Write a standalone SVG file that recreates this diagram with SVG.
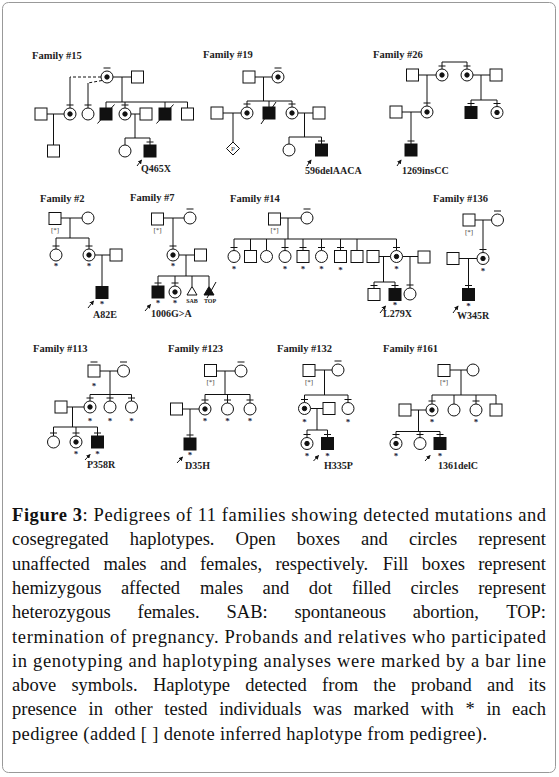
<svg xmlns="http://www.w3.org/2000/svg" xmlns:xlink="http://www.w3.org/1999/xlink" width="559" height="777" viewBox="0 0 559 777">
<style>
.s{fill:#fff;stroke:#111;stroke-width:1}
.k{fill:#111;stroke:#111;stroke-width:1}
.ln{stroke:#111;stroke-width:1;fill:none}
.dash{stroke:#111;stroke-width:1;fill:none;stroke-dasharray:3 2}
.arr{stroke:#111;stroke-width:1;fill:none;marker-end:url(#ah)}
.fam{font-family:"Liberation Serif",serif;font-weight:bold;font-size:10.5px;fill:#222}
.mut{font-family:"Liberation Serif",serif;font-weight:bold;font-size:10px;fill:#222}
.ast{font-family:"Liberation Serif",serif;font-weight:bold;font-size:9px;fill:#22223a;text-anchor:middle}
.inf{font-family:"Liberation Serif",serif;font-size:7px;fill:#333;text-anchor:middle}
.sm{font-family:"Liberation Serif",serif;font-weight:bold;font-size:6px;fill:#222;text-anchor:middle}
.cap{font-family:"Liberation Serif",serif;font-size:18.5px;fill:#111}
</style>
<defs>
<marker id="ah" viewBox="0 0 6 6" refX="5" refY="3" markerWidth="4.5" markerHeight="4.5" markerUnits="userSpaceOnUse" orient="auto"><path d="M0,0 L6,3 L0,6 z" fill="#111"/></marker>
<rect id="M" x="-6" y="-6" width="12" height="12" class="s"/>
<rect id="A" x="-6" y="-6" width="12" height="12" class="k"/>
<circle id="F" r="6" class="s"/>
<g id="H"><circle r="6" class="s"/><circle r="2.2" class="k"/></g>
<line id="B" x1="-3.5" y1="-9" x2="3.5" y2="-9" class="ln"/>
<line id="SL" x1="-8.5" y1="9.5" x2="8.5" y2="-9.5" class="ln"/>
</defs>

<rect x="2.5" y="2.5" width="553" height="770" rx="6" fill="#fff" stroke="#999" stroke-width="1"/>

<g id="labels">
<text class="fam" x="32" y="59">Family #15</text>
<text class="fam" x="203" y="58">Family #19</text>
<text class="fam" x="373" y="58">Family #26</text>
<text class="fam" x="40" y="201.5">Family #2</text>
<text class="fam" x="130" y="201">Family #7</text>
<text class="fam" x="230" y="201.5">Family #14</text>
<text class="fam" x="433" y="202">Family #136</text>
<text class="fam" x="33" y="352">Family #113</text>
<text class="fam" x="168" y="352">Family #123</text>
<text class="fam" x="277" y="352">Family #132</text>
<text class="fam" x="383" y="352">Family #161</text>
<text class="mut" x="141" y="172">Q465X</text>
<text class="mut" x="305" y="173.5">596delAACA</text>
<text class="mut" x="402" y="173.5">1269insCC</text>
<text class="mut" x="93" y="318">A82E</text>
<text class="mut" x="151" y="317">1006G&gt;A</text>
<text class="mut" x="383" y="317">L279X</text>
<text class="mut" x="457" y="319">W345R</text>
<text class="mut" x="87" y="468">P358R</text>
<text class="mut" x="185" y="469">D35H</text>
<text class="mut" x="324" y="468.5">H335P</text>
<text class="mut" x="438" y="469">1361delC</text>
<text class="sm" x="192" y="303">SAB</text>
<text class="sm" x="210" y="303">TOP</text>
</g>

<g id="connectors">
<!-- Family 15 -->
<path class="dash" d="M101,77 H70 M102,80.5 L88,83"/>
<path class="ln" d="M70,77 V108 M88,83 V108 M113,77 H131.5 M122,77 V102 M106,102 H187.5 M106,102 V108 M125,102 V108 M165,102 V108 M187.5,102 V108 M47,114 H64 M53.5,114 V145 M131,114 H140 M135,114 V138 M125,138 H150 M125,138 V145 M150,138 V145"/>
<path class="arr" d="M137,166 L141.5,160"/>
<!-- Family 19 -->
<path class="ln" d="M255,77 H272 M263.5,77 V101 M247,101 H292 M247,101 V107 M269,101 V107 M292,101 V107 M223,113 H241 M233,113 V142 M298,113 H313 M304.5,113 V137 M289,137 H321.5 M289,137 V144 M321.5,137 V144"/>
<path class="arr" d="M307,166 L311,160"/>
<!-- Family 26 -->
<path class="ln" d="M442,69 V62 H467 V69 M418.5,75 H436 M427,75 V106 M473,75 H490 M481,75 V100 M471,100 H497 M471,100 V106.5 M497,100 V106.5 M402,112 H421 M411,112 V144"/>
<path class="arr" d="M397,166 L401,160"/>
<!-- Family 2 -->
<path class="ln" d="M61,218 H82 M70,218 V238 M56,238 H89 M56,238 V249 M89,238 V249 M95,255 H110 M102,255 V286.5"/>
<path class="arr" d="M88,308 L93.5,301"/>
<!-- Family 7 -->
<path class="ln" d="M163.5,218 H184 M173,218 V249 M179,255 H194.5 M186,255 V276 M158,276 H209 M158,276 V286 M175,276 V286 M192,276 V286.5 M209,276 V286.5"/>
<path class="arr" d="M145,311 L150.5,304.5"/>
<!-- Family 14 -->
<path class="ln" d="M280.5,218 H301 M288,218 V239 M234,239 H396.5 M234,239 V250.5 M250.5,239 V250.5 M266.5,239 V250.5 M285,239 V250.5 M303,239 V250.5 M321.5,239 V250.5 M340.5,239 V250.5 M357,239 V250.5 M396.5,239 V250.5 M379,256.5 H390.5 M383.5,256.5 V282 M374,282 H395 M374,282 V288.5 M395,282 V288.5 M402.5,256.5 H418 M410,256.5 V288"/>
<path class="arr" d="M380,313 L385.5,306"/>
<!-- Family 136 -->
<path class="ln" d="M475,220 H491.5 M483,220 V252.5 M459,258.5 H477 M468.5,258.5 V288.5"/>
<path class="arr" d="M453,313 L458,306"/>
<!-- Family 113 -->
<path class="ln" d="M100,371 H117.5 M110,371 V394.5 M90,394.5 H131.5 M90,394.5 V401 M110,394.5 V401 M131.5,394.5 V401 M67,407 H84 M72.5,407 V427 M53.5,427 H97.5 M53.5,427 V436 M76,427 V436 M97.5,427 V436"/>
<path class="arr" d="M85,460 L90,454.5"/>
<!-- Family 123 -->
<path class="ln" d="M216.5,371 H235 M225,371 V394.5 M205,394.5 H250 M205,394.5 V403 M227.5,394.5 V403 M250,394.5 V403 M182.5,409 H199 M190,409 V438"/>
<path class="arr" d="M177,463 L182.5,457"/>
<!-- Family 132 -->
<path class="ln" d="M315,370 H332 M324.5,370 V395 M304.5,395 H348 M304.5,395 V402.5 M348,395 V402.5 M310.5,408.5 H323 M317,408.5 V430 M307,430 H327.5 M307,430 V437.5 M327.5,430 V437.5"/>
<path class="arr" d="M313.5,461 L318.5,455.5"/>
<!-- Family 161 -->
<path class="ln" d="M450,370 H467 M461,370 V395 M432,395 H496 M432,395 V404 M454,395 V404 M476,395 V404 M496,395 V404 M411,410 H426 M418.5,410 V431.5 M396,431.5 H440 M396,431.5 V437.5 M420,431.5 V437.5 M440,431.5 V437.5"/>
<path class="arr" d="M425,461 L430,455.5"/>
</g>

<!-- Family 15 nodes -->
<g id="f15-1" transform="translate(107,77)"><use href="#H"/><use href="#B"/></g>
<g id="f15-2" transform="translate(137.5,77)"><use href="#M"/></g>
<g id="f15-3" transform="translate(41,114)"><use href="#M"/></g>
<g id="f15-4" transform="translate(70,114)"><use href="#H"/><use href="#B"/></g>
<g id="f15-5" transform="translate(88,114)"><use href="#F"/><use href="#B"/></g>
<g id="f15-6" transform="translate(106,114)"><use href="#A"/><use href="#SL"/></g>
<g id="f15-7" transform="translate(125,114)"><use href="#H"/><use href="#B"/></g>
<g id="f15-8" transform="translate(146,114)"><use href="#M"/></g>
<g id="f15-9" transform="translate(165,114)"><use href="#A"/><use href="#SL"/></g>
<g id="f15-10" transform="translate(187.5,114)"><use href="#M"/></g>
<g id="f15-11" transform="translate(53.5,151)"><use href="#M"/></g>
<g id="f15-12" transform="translate(125,151)"><use href="#F"/></g>
<g id="f15-13" transform="translate(150,151)"><use href="#A"/><use href="#B"/></g>

<!-- Family 19 nodes -->
<g id="f19-1" transform="translate(249,77)"><use href="#M"/></g>
<g id="f19-2" transform="translate(278,77)"><use href="#H"/><use href="#B"/></g>
<g id="f19-3" transform="translate(217,113)"><use href="#M"/></g>
<g id="f19-4" transform="translate(247,113)"><use href="#H"/><use href="#B"/></g>
<g id="f19-5" transform="translate(269,113)"><use href="#A"/><line x1="-8" y1="11" x2="7" y2="-11" class="ln"/></g>
<g id="f19-6" transform="translate(292,113)"><use href="#H"/><use href="#B"/></g>
<g id="f19-7" transform="translate(319,113)"><use href="#M"/></g>
<g id="f19-8" transform="translate(233,148.5)"><polygon points="0,-6.5 6.5,0 0,6.5 -6.5,0" class="s"/><text x="0" y="2.5" class="inf">P</text></g>
<g id="f19-9" transform="translate(289,150)"><use href="#F"/></g>
<g id="f19-10" transform="translate(321.5,150)"><use href="#A"/><use href="#B"/></g>

<!-- Family 26 nodes -->
<g id="f26-1" transform="translate(412.5,75)"><use href="#M"/></g>
<g id="f26-2" transform="translate(442,75)"><use href="#H"/><use href="#B"/></g>
<g id="f26-3" transform="translate(467,75)"><use href="#H"/><use href="#B"/></g>
<g id="f26-4" transform="translate(496,75)"><use href="#M"/></g>
<g id="f26-5" transform="translate(396,112)"><use href="#M"/></g>
<g id="f26-6" transform="translate(427,112)"><use href="#H"/><use href="#B"/></g>
<g id="f26-7" transform="translate(471,112.5)"><use href="#A"/><use href="#B"/></g>
<g id="f26-8" transform="translate(497,112.5)"><use href="#H"/><use href="#B"/></g>
<g id="f26-9" transform="translate(411,150)"><use href="#A"/><use href="#B"/></g>

<!-- Family 2 nodes -->
<g id="f2-1" transform="translate(55,218.5)"><use href="#M"/><text class="inf" y="13">[*]</text></g>
<g id="f2-2" transform="translate(88,218)"><use href="#F"/></g>
<g id="f2-3" transform="translate(56,255)"><use href="#F"/><use href="#B"/><text class="ast" y="14">*</text></g>
<g id="f2-4" transform="translate(89,255)"><use href="#H"/><use href="#B"/><text class="ast" y="14">*</text></g>
<g id="f2-5" transform="translate(116,255)"><use href="#M"/></g>
<g id="f2-6" transform="translate(102,292.5)"><use href="#A"/><text class="ast" y="14">*</text></g>

<!-- Family 7 nodes -->
<g id="f7-1" transform="translate(157.5,219)"><use href="#M"/><text class="inf" y="13">[*]</text></g>
<g id="f7-2" transform="translate(190,218)"><use href="#F"/><use href="#B"/></g>
<g id="f7-3" transform="translate(173,255)"><use href="#H"/><use href="#B"/><text class="ast" y="14">*</text></g>
<g id="f7-4" transform="translate(200.5,255)"><use href="#M"/></g>
<g id="f7-5" transform="translate(158,292)"><use href="#A"/><use href="#B"/><text class="ast" y="14">*</text></g>
<g id="f7-6" transform="translate(175,292)"><use href="#H"/><use href="#B"/><text class="ast" y="14">*</text></g>
<g id="f7-7" transform="translate(192,291)"><polygon points="0,-4.5 5,4 -5,4" class="s"/></g>
<g id="f7-8" transform="translate(209,291)"><polygon points="0,-4.5 5,4 -5,4" class="k"/><line x1="-2" y1="7" x2="7" y2="-9" class="ln"/></g>

<!-- Family 14 nodes -->
<g id="f14-1" transform="translate(274.5,219)"><use href="#M"/><text class="inf" y="13">[*]</text></g>
<g id="f14-2" transform="translate(307,218)"><use href="#F"/><use href="#B"/></g>
<g id="f14-3" transform="translate(234,256.5)"><use href="#F"/><use href="#B"/><text class="ast" y="15">*</text></g>
<g id="f14-4" transform="translate(250.5,256.5)"><use href="#M"/></g>
<g id="f14-5" transform="translate(266.5,256.5)"><use href="#F"/></g>
<g id="f14-6" transform="translate(285,256.5)"><use href="#F"/><use href="#B"/><text class="ast" y="15">*</text></g>
<g id="f14-7" transform="translate(303,256.5)"><use href="#M"/><use href="#B"/><text class="ast" y="15">*</text></g>
<g id="f14-8" transform="translate(321.5,256.5)"><use href="#F"/><use href="#B"/><text class="ast" y="15">*</text></g>
<g id="f14-9" transform="translate(340.5,256.5)"><use href="#M"/><use href="#B"/><text class="ast" y="16.5">*</text></g>
<g id="f14-10" transform="translate(357,256.5)"><use href="#M"/></g>
<g id="f14-11" transform="translate(373,256.5)"><use href="#M"/></g>
<g id="f14-12" transform="translate(396.5,256.5)"><use href="#H"/><use href="#B"/><text class="ast" y="15">*</text></g>
<g id="f14-13" transform="translate(424,257)"><use href="#M"/></g>
<g id="f14-14" transform="translate(374,294.5)"><use href="#M"/><use href="#B"/></g>
<g id="f14-15" transform="translate(395,294.5)"><use href="#A"/><use href="#B"/><text class="ast" y="13">*</text></g>
<g id="f14-16" transform="translate(410,294)"><use href="#F"/><use href="#B"/></g>

<!-- Family 136 nodes -->
<g id="f136-1" transform="translate(469,220)"><use href="#M"/><text class="inf" y="13.5">[*]</text></g>
<g id="f136-2" transform="translate(497.5,220)"><use href="#F"/><use href="#B"/></g>
<g id="f136-3" transform="translate(453,258.5)"><use href="#M"/></g>
<g id="f136-4" transform="translate(483,258.5)"><use href="#H"/><use href="#B"/><text class="ast" y="15">*</text></g>
<g id="f136-5" transform="translate(468.5,294.5)"><use href="#A"/><use href="#B"/><text class="ast" y="14">*</text></g>

<!-- Family 113 nodes -->
<g id="f113-1" transform="translate(94,371)"><use href="#M"/><use href="#B"/><text class="ast" y="17.5">*</text></g>
<g id="f113-2" transform="translate(123.5,371)"><use href="#F"/><use href="#B"/></g>
<g id="f113-3" transform="translate(61,407)"><use href="#M"/></g>
<g id="f113-4" transform="translate(90,407)"><use href="#H"/><use href="#B"/><text class="ast" y="16.5">*</text></g>
<g id="f113-5" transform="translate(110,407)"><use href="#F"/><use href="#B"/><text class="ast" y="16.5">*</text></g>
<g id="f113-6" transform="translate(131.5,407)"><use href="#F"/><use href="#B"/><text class="ast" y="16.5">*</text></g>
<g id="f113-7" transform="translate(53.5,442)"><use href="#F"/><use href="#B"/></g>
<g id="f113-8" transform="translate(76,442)"><use href="#H"/><use href="#B"/><text class="ast" y="15">*</text></g>
<g id="f113-9" transform="translate(97.5,442)"><use href="#A"/><use href="#B"/><text class="ast" y="15">*</text></g>

<!-- Family 123 nodes -->
<g id="f123-1" transform="translate(210.5,370.5)"><use href="#M"/><text class="inf" y="13.5">[*]</text></g>
<g id="f123-2" transform="translate(241,371)"><use href="#F"/><use href="#B"/></g>
<g id="f123-3" transform="translate(176.5,409)"><use href="#M"/></g>
<g id="f123-4" transform="translate(205,409)"><use href="#H"/><use href="#B"/><text class="ast" y="15">*</text></g>
<g id="f123-5" transform="translate(227.5,409)"><use href="#F"/><use href="#B"/><text class="ast" y="15">*</text></g>
<g id="f123-6" transform="translate(250,409)"><use href="#F"/><use href="#B"/><text class="ast" y="15">*</text></g>
<g id="f123-7" transform="translate(190,444)"><use href="#A"/><use href="#B"/><text class="ast" y="14">*</text></g>

<!-- Family 132 nodes -->
<g id="f132-1" transform="translate(309,370.5)"><use href="#M"/><text class="inf" y="13.5">[*]</text></g>
<g id="f132-2" transform="translate(338,370)"><use href="#F"/><use href="#B"/></g>
<g id="f132-3" transform="translate(304.5,408.5)"><use href="#H"/><use href="#B"/><text class="ast" y="16">*</text></g>
<g id="f132-4" transform="translate(348,408.5)"><use href="#F"/><use href="#B"/><text class="ast" y="16">*</text></g>
<g id="f132-5" transform="translate(329,408.5)"><use href="#M"/></g>
<g id="f132-6" transform="translate(307,443.5)"><use href="#H"/><use href="#B"/><text class="ast" y="15">*</text></g>
<g id="f132-7" transform="translate(327.5,443.5)"><use href="#A"/><use href="#B"/><text class="ast" y="15">*</text></g>

<!-- Family 161 nodes -->
<g id="f161-1" transform="translate(444,370.5)"><use href="#M"/><text class="inf" y="13.5">[*]</text></g>
<g id="f161-2" transform="translate(473,370)"><use href="#F"/></g>
<g id="f161-3" transform="translate(405,410)"><use href="#M"/></g>
<g id="f161-4" transform="translate(432,410)"><use href="#H"/><use href="#B"/><text class="ast" y="15">*</text></g>
<g id="f161-5" transform="translate(454,410)"><use href="#F"/></g>
<g id="f161-6" transform="translate(476,410)"><use href="#F"/><use href="#B"/><text class="ast" y="15">*</text></g>
<g id="f161-7" transform="translate(496,410)"><use href="#M"/></g>
<g id="f161-8" transform="translate(396,443.5)"><use href="#H"/><use href="#B"/><text class="ast" y="15">*</text></g>
<g id="f161-9" transform="translate(420,443.5)"><use href="#F"/><use href="#B"/></g>
<g id="f161-10" transform="translate(440,443.5)"><use href="#A"/><use href="#B"/><text class="ast" y="15">*</text></g>

<!-- Caption -->
<g id="caption" class="cap">
<text x="12" y="521" textLength="534" lengthAdjust="spacing"><tspan font-weight="bold">Figure 3</tspan>: Pedigrees of 11 families showing detected mutations and</text>
<text y="545.3"><tspan x="12">cosegregated</tspan><tspan x="129.7">haplotypes.</tspan><tspan x="235.6">Open</tspan><tspan x="296.8">boxes</tspan><tspan x="361.1">and</tspan><tspan x="408.9">circles</tspan><tspan x="546" text-anchor="end">represent</tspan></text>
<text y="569.6"><tspan x="12">unaffected</tspan><tspan x="103.4">males</tspan><tspan x="159.9">and</tspan><tspan x="199.9">females,</tspan><tspan x="275.4">respectively.</tspan><tspan x="382.8">Fill</tspan><tspan x="421.8">boxes</tspan><tspan x="546" text-anchor="end">represent</tspan></text>
<text y="593.9"><tspan x="12">hemizygous</tspan><tspan x="120.9">affected</tspan><tspan x="200">males</tspan><tspan x="262.6">and</tspan><tspan x="308.8">dot</tspan><tspan x="351.9">filled</tspan><tspan x="410.4">circles</tspan><tspan x="546" text-anchor="end">represent</tspan></text>
<text y="618.2"><tspan x="12">heterozygous</tspan><tspan x="137.5">females.</tspan><tspan x="226.5">SAB:</tspan><tspan x="294.4">spontaneous</tspan><tspan x="412.7">abortion,</tspan><tspan x="546" text-anchor="end">TOP:</tspan></text>
<text x="12" y="642.5" textLength="534" lengthAdjust="spacing">termination of pregnancy. Probands and relatives who participated</text>
<text x="12" y="666.8" textLength="534" lengthAdjust="spacing">in genotyping and haplotyping analyses were marked by a bar line</text>
<text y="691.1"><tspan x="12">above</tspan><tspan x="71.4">symbols.</tspan><tspan x="152.9">Haplotype</tspan><tspan x="245.2">detected</tspan><tspan x="322.1">from</tspan><tspan x="373.3">the</tspan><tspan x="411.1">proband</tspan><tspan x="487">and</tspan><tspan x="546" text-anchor="end">its</tspan></text>
<text y="715.4"><tspan x="12">presence</tspan><tspan x="88.5">in</tspan><tspan x="114.6">other</tspan><tspan x="164.3">tested</tspan><tspan x="219.2">individuals</tspan><tspan x="313.1">was</tspan><tspan x="353.6">marked</tspan><tspan x="420.8">with</tspan><tspan x="465.4">*</tspan><tspan x="486.4">in</tspan><tspan x="546" text-anchor="end">each</tspan></text>
<text x="12" y="739.7" textLength="475" lengthAdjust="spacing">pedigree (added [ ] denote inferred haplotype from pedigree).</text>
</g>
</svg>
